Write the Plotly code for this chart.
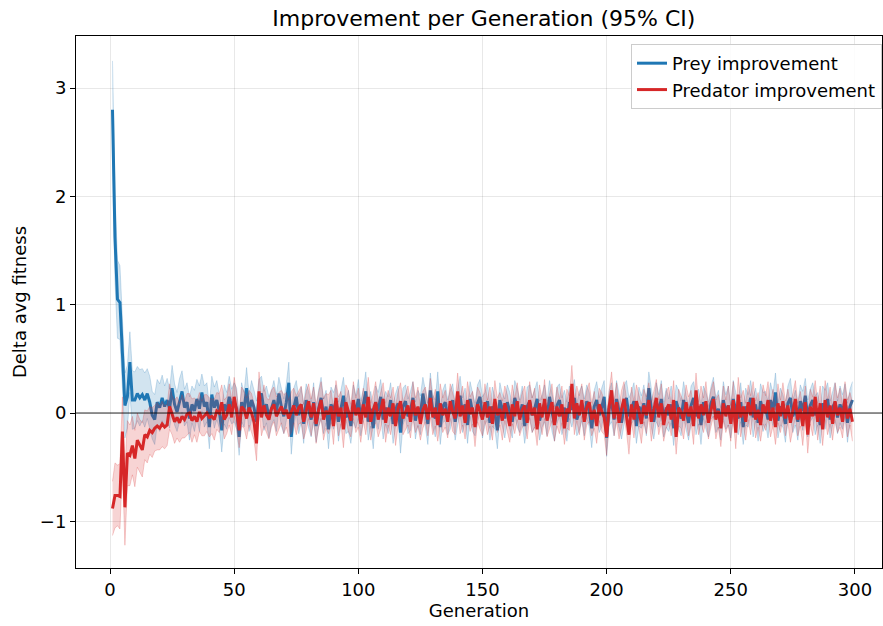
import plotly.graph_objects as go

generations = list(range(1, 300))

prey_improvement = [
    2.80, 1.62, 1.05, 1.02, 0.55, 0.07, 0.15, 0.47, 0.12, 0.12,
    0.18, 0.14, 0.17, 0.12, 0.18, 0.10, -0.02, -0.06, 0.10, 0.05,
    0.14, 0.06, 0.12, 0.04, 0.23, 0.08, 0.01, 0.12, 0.20, 0.05,
    0.10, -0.05, 0.08, 0.02, 0.13, 0.04, 0.19, 0.06, 0.10, -0.13,
    0.17, 0.05, 0.12, 0.02, -0.16, 0.08, 0.02, 0.15, 0.06, 0.10,
    0.04, -0.22, 0.10, 0.03, 0.23, 0.00, 0.12, 0.05, -0.08, 0.14,
    0.18, 0.02, 0.08, -0.04, 0.05, 0.12, 0.00, 0.18, 0.06, -0.03,
    0.10, 0.28, -0.22, 0.05, 0.15, -0.02, 0.08, -0.10, 0.12, 0.03,
    -0.06, 0.10, -0.12, 0.04, 0.14, -0.03, 0.06, -0.15, 0.08, 0.02,
    0.11, -0.08, 0.05, 0.16, -0.04, 0.02, -0.12, 0.09, 0.01, 0.13,
    -0.05, 0.07, 0.20, -0.08, 0.04, -0.14, 0.10, 0.02, 0.15, -0.06,
    0.05, -0.02, 0.12, -0.10, 0.03, 0.09, -0.18, 0.06, 0.11, -0.03,
    0.02, 0.14, -0.07, 0.05, -0.02, 0.18, 0.04, -0.10, 0.21, 0.02,
    -0.05, 0.20, -0.13, 0.06, 0.10, -0.04, 0.03, 0.12, -0.08, 0.05,
    0.16, -0.02, 0.08, -0.11, 0.13, 0.01, -0.06, 0.09, 0.15, -0.04,
    0.04, 0.11, -0.09, 0.06, 0.00, -0.16, 0.12, 0.03, -0.05, 0.10,
    0.02, -0.08, 0.14, 0.05, -0.03, 0.08, -0.12, 0.06, 0.11, -0.02,
    0.04, 0.13, -0.07, 0.02, 0.09, -0.05, 0.15, 0.01, -0.10, 0.07,
    0.12, -0.03, 0.05, -0.08, 0.10, 0.03, 0.14, -0.06, 0.02, 0.09,
    -0.04, 0.11, 0.03, -0.14, 0.06, 0.12, -0.02, 0.05, 0.15, -0.23,
    0.04, 0.10, -0.06, 0.13, 0.02, -0.09, 0.07, 0.14, -0.03, 0.05,
    0.11, -0.12, 0.06, 0.01, 0.09, -0.05, 0.23, 0.04, -0.08, 0.10,
    0.02, 0.13, -0.06, 0.05, -0.02, 0.08, -0.14, 0.11, 0.03, -0.05,
    0.12, 0.01, -0.09, 0.07, 0.14, -0.03, 0.06, -0.11, 0.10, 0.02,
    -0.06, 0.09, 0.15, -0.02, 0.04, -0.10, 0.12, 0.01, 0.07, -0.08,
    0.13, 0.03, -0.05, 0.10, -0.13, 0.06, 0.02, 0.14, -0.04, 0.08,
    -0.09, 0.11, 0.01, 0.05, -0.06, 0.12, 0.03, 0.19, -0.07, 0.06,
    0.02, -0.10, 0.09, 0.14, -0.03, 0.05, -0.08, 0.11, 0.02, 0.16,
    -0.05, 0.07, 0.12, -0.02, 0.04, -0.11, 0.09, 0.03, 0.13, -0.06,
    0.05, 0.10, -0.04, 0.08, 0.01, 0.12, -0.09, 0.06, 0.12,
]

predator_improvement = [
    -0.88, -0.76, -0.76, -0.77, -0.17, -0.87, -0.37, -0.39, -0.30, -0.42,
    -0.25, -0.30, -0.34, -0.20, -0.22, -0.16, -0.18, -0.14, -0.12, -0.14,
    -0.10, -0.13, -0.11, 0.06, -0.02, -0.08, -0.04, -0.09, -0.03, -0.06,
    -0.01, 0.00, -0.07, -0.03, -0.08, 0.01, -0.05, -0.02, 0.00, -0.04,
    -0.03, -0.06, 0.02, 0.00, 0.10, -0.06, -0.02, 0.08, -0.04, 0.15,
    0.02, -0.16, 0.06, 0.03, -0.05, 0.05, 0.00, -0.08, -0.28, 0.20,
    -0.04, 0.07, -0.02, -0.06, 0.04, 0.08, -0.03, 0.02, 0.06, -0.01,
    0.03, -0.05, 0.01, 0.07, -0.02, 0.05, 0.08, -0.08, 0.02, 0.11,
    -0.04, 0.09, -0.10, 0.03, 0.12, -0.06, 0.02, -0.01, 0.06, -0.12,
    0.14, -0.03, 0.05, -0.15, 0.10, 0.02, -0.07, 0.12, -0.02, 0.05,
    -0.10, 0.08, -0.04, 0.15, -0.08, 0.03, 0.10, -0.06, 0.02, 0.13,
    -0.09, 0.05, -0.03, 0.09, -0.12, 0.04, 0.11, -0.05, 0.01, 0.07,
    -0.08, 0.12, -0.02, 0.06, -0.10, 0.03, 0.08, -0.06, 0.14, -0.04,
    0.05, -0.11, 0.09, -0.02, 0.04, -0.08, 0.11, 0.01, -0.05, 0.20,
    -0.03, 0.07, -0.09, 0.12, -0.01, 0.05, -0.13, 0.08, 0.02, -0.06,
    0.10, -0.04, 0.06, -0.10, 0.13, -0.02, 0.04, -0.07, 0.09, 0.00,
    -0.12, 0.08, -0.03, 0.11, -0.06, 0.03, 0.07, -0.09, 0.12, -0.02,
    0.05, -0.15, 0.09, -0.04, 0.13, -0.07, 0.02, 0.10, -0.11, 0.06,
    -0.03, 0.08, -0.14, 0.04, 0.00, 0.27, -0.05, 0.09, -0.02, 0.12,
    -0.08, 0.05, 0.10, -0.06, 0.03, -0.12, 0.08, 0.01, -0.04, -0.22,
    0.06, 0.21, -0.05, 0.10, -0.09, 0.04, 0.13, -0.03, -0.20, 0.08,
    -0.06, 0.11, 0.02, -0.10, 0.07, -0.02, 0.12, -0.08, 0.05, 0.14,
    -0.04, 0.09, -0.11, 0.03, 0.08, -0.06, 0.12, -0.22, 0.05, 0.01,
    -0.07, 0.10, -0.03, 0.06, -0.12, 0.21, -0.05, 0.08, -0.02, 0.11,
    -0.09, 0.04, 0.13, -0.06, 0.02, -0.14, 0.09, -0.03, 0.07, -0.10,
    0.12, -0.18, 0.17, -0.04, 0.06, -0.08, 0.10, -0.02, 0.14, -0.06,
    0.03, -0.11, 0.08, 0.00, 0.12, -0.07, 0.05, -0.13, 0.09, -0.03,
    0.11, -0.05, 0.07, -0.09, 0.02, 0.13, -0.06, 0.04, -0.12, 0.10,
    -0.20, 0.06, -0.03, 0.15, -0.08, 0.09, -0.15, 0.12, -0.04, 0.07,
    -0.10, 0.11, -0.02, 0.05, -0.08, 0.13, -0.05, 0.04, -0.08,
]

prey_ci_half = [
    0.45, 0.40, 0.36, 0.34, 0.32, 0.30, 0.29, 0.28, 0.27, 0.26,
    0.25, 0.26, 0.24, 0.25, 0.23, 0.24, 0.22, 0.23, 0.21, 0.22,
    0.21, 0.19, 0.20, 0.18, 0.21, 0.19, 0.18, 0.20, 0.19, 0.17,
    0.18, 0.20, 0.17, 0.19, 0.18, 0.21, 0.17, 0.19, 0.18, 0.20,
    0.17, 0.19, 0.18, 0.16, 0.20, 0.18, 0.17, 0.19, 0.16, 0.18,
    0.19, 0.17, 0.18, 0.16, 0.19, 0.17, 0.18, 0.16, 0.19, 0.17,
    0.16, 0.18, 0.17, 0.19, 0.16, 0.18, 0.17, 0.15, 0.18, 0.16,
    0.17, 0.19, 0.16, 0.18, 0.15, 0.17, 0.16, 0.18, 0.15, 0.17,
    0.16, 0.18, 0.15, 0.17, 0.19, 0.16, 0.15, 0.18, 0.16, 0.17,
    0.15, 0.18, 0.16, 0.17, 0.15, 0.19, 0.16, 0.17, 0.15, 0.18,
    0.16, 0.15, 0.18, 0.17, 0.16, 0.19, 0.15, 0.17, 0.16, 0.18,
    0.15, 0.17, 0.16, 0.18, 0.15, 0.16, 0.19, 0.17, 0.15, 0.16,
    0.18, 0.15, 0.17, 0.16, 0.18, 0.15, 0.17, 0.19, 0.16, 0.15,
    0.17, 0.18, 0.16, 0.15, 0.17, 0.16, 0.18, 0.15, 0.17, 0.16,
    0.18, 0.16, 0.15, 0.17, 0.16, 0.18, 0.15, 0.17, 0.16, 0.19,
    0.15, 0.17, 0.16, 0.18, 0.15, 0.17, 0.16, 0.15, 0.18, 0.16,
    0.17, 0.15, 0.16, 0.18, 0.15, 0.17, 0.16, 0.18, 0.15, 0.16,
    0.17, 0.16, 0.18, 0.15, 0.17, 0.16, 0.15, 0.18, 0.16, 0.17,
    0.15, 0.17, 0.16, 0.18, 0.15, 0.16, 0.17, 0.15, 0.18, 0.16,
    0.17, 0.15, 0.16, 0.18, 0.15, 0.17, 0.16, 0.18, 0.15, 0.17,
    0.16, 0.18, 0.15, 0.17, 0.16, 0.15, 0.18, 0.16, 0.17, 0.15,
    0.17, 0.16, 0.18, 0.15, 0.17, 0.16, 0.15, 0.17, 0.16, 0.18,
    0.15, 0.17, 0.16, 0.18, 0.15, 0.17, 0.16, 0.15, 0.18, 0.16,
    0.17, 0.15, 0.16, 0.18, 0.15, 0.17, 0.16, 0.18, 0.15, 0.17,
    0.16, 0.15, 0.18, 0.16, 0.17, 0.15, 0.17, 0.16, 0.18, 0.15,
    0.17, 0.16, 0.15, 0.18, 0.16, 0.17, 0.15, 0.16, 0.18, 0.15,
    0.17, 0.16, 0.18, 0.15, 0.17, 0.16, 0.15, 0.18, 0.16, 0.17,
    0.15, 0.17, 0.16, 0.18, 0.15, 0.16, 0.17, 0.15, 0.18, 0.16,
    0.17, 0.15, 0.16, 0.18, 0.15, 0.17, 0.16, 0.18, 0.15, 0.17,
    0.16, 0.18, 0.15, 0.17, 0.16, 0.15, 0.18, 0.16, 0.17,
]

predator_ci_half = [
    0.25, 0.30, 0.28, 0.30, 0.32, 0.35, 0.30, 0.28, 0.27, 0.26,
    0.25, 0.24, 0.25, 0.23, 0.24, 0.22, 0.23, 0.21, 0.22, 0.20,
    0.21, 0.20, 0.19, 0.21, 0.18, 0.20, 0.19, 0.18, 0.20, 0.17,
    0.19, 0.18, 0.20, 0.17, 0.19, 0.18, 0.16, 0.19, 0.17, 0.18,
    0.16, 0.19, 0.17, 0.18, 0.16, 0.18, 0.17, 0.19, 0.16, 0.18,
    0.17, 0.16, 0.18, 0.17, 0.19, 0.16, 0.18, 0.17, 0.16, 0.18,
    0.17, 0.19, 0.16, 0.18, 0.17, 0.16, 0.18, 0.17, 0.15, 0.18,
    0.16, 0.17, 0.19, 0.16, 0.18, 0.15, 0.17, 0.16, 0.18, 0.16,
    0.17, 0.15, 0.18, 0.16, 0.17, 0.19, 0.16, 0.18, 0.15, 0.17,
    0.16, 0.18, 0.15, 0.17, 0.16, 0.19, 0.15, 0.17, 0.16, 0.18,
    0.17, 0.15, 0.16, 0.18, 0.17, 0.15, 0.19, 0.16, 0.17, 0.15,
    0.18, 0.16, 0.17, 0.15, 0.18, 0.16, 0.17, 0.15, 0.16, 0.18,
    0.15, 0.17, 0.16, 0.18, 0.15, 0.17, 0.16, 0.15, 0.18, 0.16,
    0.17, 0.15, 0.18, 0.16, 0.17, 0.15, 0.16, 0.18, 0.15, 0.17,
    0.16, 0.18, 0.15, 0.17, 0.16, 0.15, 0.18, 0.16, 0.17, 0.15,
    0.17, 0.16, 0.18, 0.15, 0.17, 0.16, 0.15, 0.18, 0.16, 0.17,
    0.15, 0.18, 0.16, 0.17, 0.15, 0.16, 0.18, 0.15, 0.17, 0.16,
    0.18, 0.15, 0.17, 0.16, 0.18, 0.15, 0.16, 0.17, 0.15, 0.18,
    0.16, 0.17, 0.15, 0.18, 0.16, 0.17, 0.15, 0.16, 0.18, 0.15,
    0.17, 0.16, 0.18, 0.15, 0.17, 0.16, 0.15, 0.18, 0.16, 0.17,
    0.15, 0.17, 0.16, 0.18, 0.15, 0.17, 0.16, 0.15, 0.18, 0.16,
    0.17, 0.15, 0.16, 0.18, 0.15, 0.17, 0.16, 0.18, 0.15, 0.17,
    0.16, 0.18, 0.15, 0.17, 0.16, 0.15, 0.18, 0.16, 0.17, 0.15,
    0.17, 0.16, 0.18, 0.15, 0.17, 0.16, 0.15, 0.17, 0.16, 0.18,
    0.15, 0.17, 0.16, 0.18, 0.15, 0.17, 0.16, 0.15, 0.18, 0.16,
    0.17, 0.15, 0.16, 0.18, 0.15, 0.17, 0.16, 0.18, 0.15, 0.17,
    0.16, 0.15, 0.18, 0.16, 0.17, 0.15, 0.17, 0.16, 0.18, 0.15,
    0.17, 0.16, 0.15, 0.18, 0.16, 0.17, 0.15, 0.16, 0.18, 0.15,
    0.17, 0.16, 0.18, 0.15, 0.17, 0.16, 0.15, 0.18, 0.16, 0.17,
    0.15, 0.17, 0.16, 0.18, 0.15, 0.16, 0.17, 0.15, 0.18,
]

x_ticks = [0, 50, 100, 150, 200, 250, 300]
y_ticks = [-1, 0, 1, 2, 3]

PREY_COLOR = "#1f77b4"
PRED_COLOR = "#d62728"
PREY_FILL = "rgba(31,119,180,0.2)"
PRED_FILL = "rgba(214,39,40,0.2)"
PREY_EDGE = "rgba(31,119,180,0.22)"
PRED_EDGE = "rgba(214,39,40,0.22)"


def band(values, half, fill, edge):
    upper = [v + h for v, h in zip(values, half)]
    lower = [v - h for v, h in zip(values, half)]
    return [
        go.Scatter(x=generations, y=lower, mode="lines",
                   line=dict(color=edge, width=1), showlegend=False,
                   hoverinfo="skip"),
        go.Scatter(x=generations, y=upper, mode="lines",
                   line=dict(color=edge, width=1), fill="tonexty",
                   fillcolor=fill, showlegend=False, hoverinfo="skip"),
    ]


fig = go.Figure()
for tr in band(prey_improvement, prey_ci_half, PREY_FILL, PREY_EDGE):
    fig.add_trace(tr)
fig.add_trace(go.Scatter(x=generations, y=prey_improvement, mode="lines",
                         name="Prey improvement",
                         line=dict(color=PREY_COLOR, width=3)))
for tr in band(predator_improvement, predator_ci_half, PRED_FILL, PRED_EDGE):
    fig.add_trace(tr)
fig.add_trace(go.Scatter(x=generations, y=predator_improvement, mode="lines",
                         name="Predator improvement",
                         line=dict(color=PRED_COLOR, width=3)))

fig.add_shape(type="line", xref="paper", x0=0, x1=1, yref="y", y0=0, y1=0,
              line=dict(color="rgba(0,0,0,0.55)", width=1.5), layer="above")

font_family = "DejaVu Sans, Arial, sans-serif"
axis_common = dict(
    showline=True, linecolor="black", linewidth=1, mirror=True,
    ticks="outside", ticklen=5, tickwidth=1, tickcolor="black",
    showgrid=True, gridcolor="rgba(0,0,0,0.09)", gridwidth=1,
    zeroline=False, tickfont=dict(size=18, color="black"),
)

fig.update_layout(
    width=883, height=626,
    margin=dict(l=76, r=1, t=36, b=58),
    paper_bgcolor="white", plot_bgcolor="white",
    font=dict(family=font_family, color="black", size=18),
    title=dict(text="Improvement per Generation (95% CI)", xref="paper",
               x=0.506, xanchor="center", y=0.97, yanchor="middle",
               font=dict(size=22, color="black")),
    xaxis=dict(title=dict(text="Generation", font=dict(size=18), standoff=4),
               range=[-13.7, 310.9], tickvals=x_ticks, **axis_common),
    yaxis=dict(title=dict(text="Delta avg fitness", font=dict(size=18), standoff=8),
               range=[-1.43, 3.48], tickvals=y_ticks, **axis_common),
    legend=dict(x=1.0, y=0.985, xanchor="right", yanchor="top",
                traceorder="normal", tracegroupgap=0,
                bgcolor="rgba(255,255,255,0.85)", bordercolor="#cccccc",
                borderwidth=1, font=dict(size=18)),
)

fig.write_html(
    "out.html",
    config={"displayModeBar": False},
    post_script="document.body.style.margin='0';document.body.style.overflow='hidden';",
)
